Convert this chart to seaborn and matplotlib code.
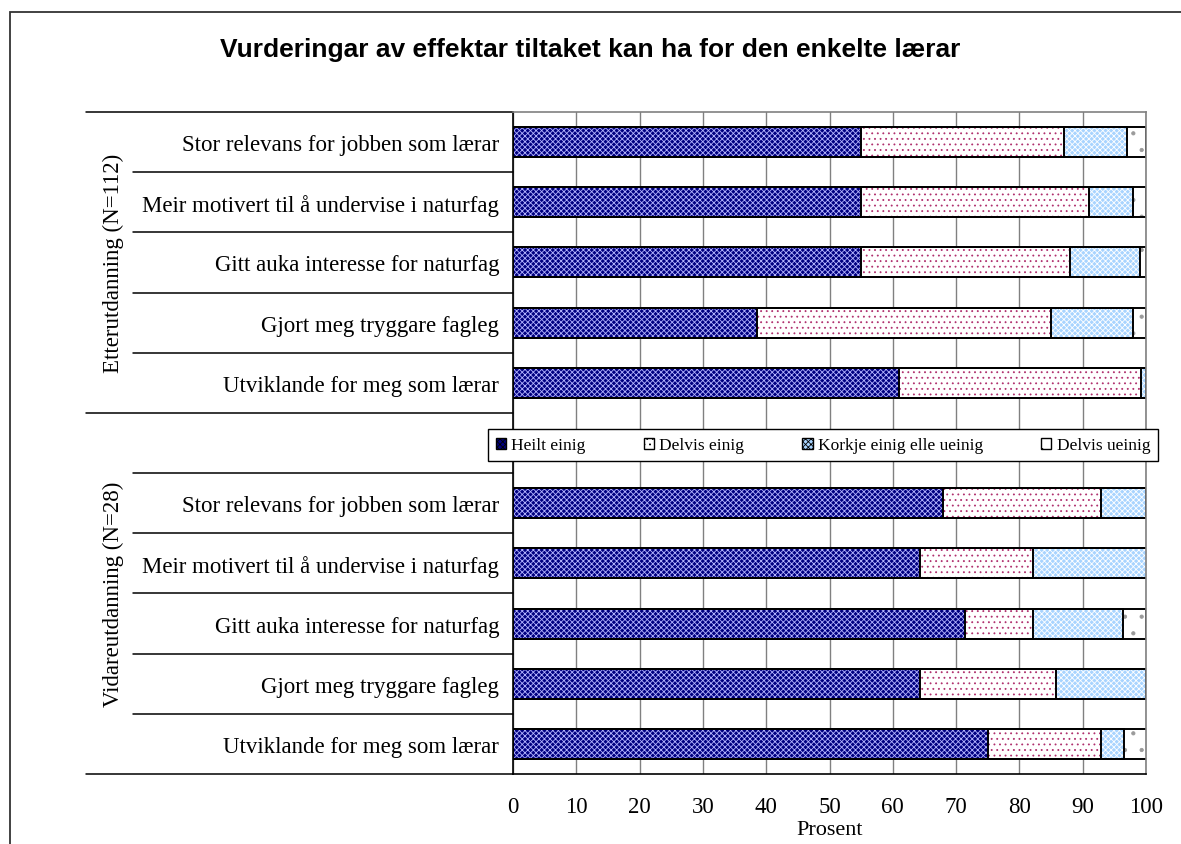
import numpy as np
import pandas as pd
import matplotlib
matplotlib.use('Agg')
import matplotlib.pyplot as plt
import matplotlib.transforms as mtransforms
from matplotlib.patches import Patch, Rectangle
import seaborn as sns


items = ['Stor relevans for jobben som lærar',
         'Meir motivert til å undervise i naturfag',
         'Gitt auka interesse for naturfag',
         'Gjort meg tryggare fagleg',
         'Utviklande for meg som lærar']
groups = ['Etterutdanning (N=112)', 'Vidareutdanning (N=28)']
series = ['Heilt einig', 'Delvis einig', 'Korkje einig elle ueinig', 'Delvis ueinig']

# Etterutdanning (N=112), prosent
etter_heilt = [55.0, 55.0, 55.0, 38.5, 61.0]
etter_delvis = [32.0, 36.0, 33.0, 46.5, 38.2]
etter_korkje = [10.0, 7.0, 11.0, 13.0, 0.8]
etter_ueinig = [3.0, 2.0, 1.0, 2.0, 0.0]

# Vidareutdanning (N=28), prosent
vidare_heilt = [67.9, 64.3, 71.4, 64.3, 75.0]
vidare_delvis = [25.0, 17.9, 10.7, 21.4, 17.9]
vidare_korkje = [7.1, 17.9, 14.3, 14.3, 3.6]
vidare_ueinig = [0.0, 0.0, 3.6, 0.0, 3.6]

faces = ['#000080', 'white', '#a8d4ff', 'white']
hatch_cols = ['#b4b4ff', '#b0306e', 'white', '#9a9a9a']
hatches = ['xxxxxx', '...', 'xxxxxx', '.']

sns.set_style('white')
plt.rcParams['font.family'] = ['Liberation Serif', 'DejaVu Serif']
plt.rcParams['hatch.linewidth'] = 0.6
for key in ['text.color', 'axes.labelcolor', 'xtick.color', 'ytick.color']:
    plt.rcParams[key] = 'black'

# one slot per item, with an empty slot between the two groups
rows = []
data = [[etter_heilt, etter_delvis, etter_korkje, etter_ueinig],
        [vidare_heilt, vidare_delvis, vidare_korkje, vidare_ueinig]]
for g, vals in enumerate(data):
    for i, item in enumerate(items):
        parts = [v[i] for v in vals]
        cum = np.cumsum(parts)
        rows.append({'slot': g * (len(items) + 1) + i, 'item': item,
                     'c0': cum[0], 'c1': cum[1], 'c2': cum[2], 'c3': cum[3]})
df = pd.DataFrame(rows)
n_slots = 2 * len(items) + 1

fig = plt.figure(figsize=(11.81, 8.45), dpi=100)
ax = fig.add_axes([0.4344, 0.0828, 0.5360, 0.7835])
ax.set_axisbelow(True)
ax.grid(axis='x', color='#808080', lw=1.0)

# stacked bars as overlaid cumulative bars: hatch layer first, outlines on top
for k in reversed(range(4)):
    sns.barplot(data=df, x=f'c{k}', y='slot', orient='h', native_scale=True,
                width=0.5, color=faces[k], saturation=1, edgecolor=hatch_cols[k],
                linewidth=0, hatch=hatches[k], errorbar=None, ax=ax)
for k in range(4):
    sns.barplot(data=df, x=f'c{k}', y='slot', orient='h', native_scale=True,
                width=0.5, color='black', fill=False, linewidth=1.4,
                errorbar=None, ax=ax)

ax.set_xlim(0, 100)
ax.set_ylim(n_slots - 0.5, -0.5)
ax.set_xticks(range(0, 101, 10))
ax.set_yticks(df['slot'], df['item'])
ax.set_xlabel('Prosent', fontsize=16, labelpad=2)
ax.set_ylabel('')
ax.tick_params(axis='x', direction='out', length=6, width=1, color='black',
               labelsize=16.5, pad=10)
ax.tick_params(axis='y', length=0, labelsize=16.5, pad=10)
for s in ['left', 'bottom']:
    ax.spines[s].set_color('black')
    ax.spines[s].set_linewidth(1.2)
for s in ['top', 'right']:
    ax.spines[s].set_color('#808080')
    ax.spines[s].set_linewidth(1.2)

# category separators in the label area
trans = mtransforms.blended_transform_factory(ax.transAxes, ax.transData)
group_edges = [-0.5, len(items) - 0.5, n_slots - 0.5]
for y in group_edges:
    ax.plot([-0.675, 0], [y, y], transform=trans, color='black', lw=1.1, clip_on=False)
for y in df['slot'].values[:-1] + 0.5:
    if y not in group_edges:
        ax.plot([-0.600, 0], [y, y], transform=trans, color='black', lw=1.1, clip_on=False)
ax.plot([-0.600, 0], [len(items) + 0.5] * 2, transform=trans, color='black', lw=1.1, clip_on=False)

for g, name in enumerate(groups):
    mid = (group_edges[g] + group_edges[g + 1]) / 2
    ax.text(-0.631, mid, name, rotation=90, ha='center', va='center',
            transform=trans, fontsize=16.5)

handles = [Patch(facecolor=faces[k], edgecolor='black', hatch=hatches[k], lw=1)
           for k in range(4)]
fig.legend(handles, series, loc='lower left',
           bbox_to_anchor=(488 / 1181, 1 - 462 / 845, 670 / 1181, 34 / 845),
           mode='expand', borderaxespad=0, ncol=4,
           frameon=True, fancybox=False, edgecolor='black', framealpha=1,
           fontsize=12.5, handlelength=0.6, handleheight=0.6, handletextpad=0.3,
           columnspacing=3.0, borderpad=0.45)

fig.text(0.4996, 0.9408, 'Vurderingar av effektar tiltaket kan ha for den enkelte lærar',
         ha='center', va='center', fontsize=19, fontweight='bold',
         family=['Liberation Sans', 'DejaVu Sans'])

fig.add_artist(Rectangle((10 / 1181, -0.1), 1.2, 1.1 - 13 / 845,
                         transform=fig.transFigure, fill=False,
                         edgecolor='#333333', lw=1.3))

fig.savefig('out.png', dpi=100)
